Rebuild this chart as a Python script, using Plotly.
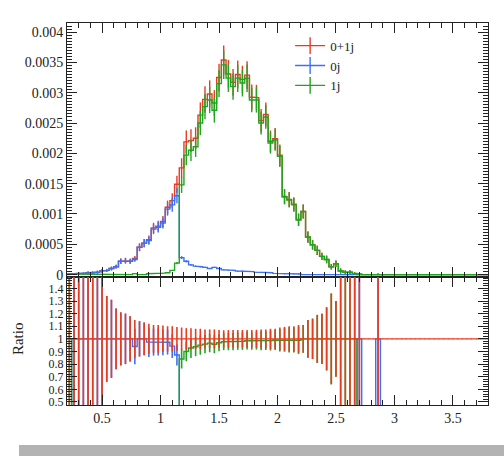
import numpy as np
import plotly.graph_objects as go
from plotly.subplots import make_subplots

# ---------------- data ----------------
bin_edges = [round(0.2 + 0.04 * k, 4) for k in range(91)]

total_0p1j = [
    0.00001, 0.00001, 0.00002, 0.00002, 0.00003, 0.00003, 0.00004, 0.00006, 0.00007, 0.0001,
    0.00013, 0.00022, 0.00023, 0.00022, 0.000266, 0.00045, 0.00052, 0.000575, 0.00077, 0.0008,
    0.000875, 0.00111, 0.00122, 0.00149, 0.00176, 0.00219, 0.00221, 0.00225, 0.00263, 0.00289,
    0.00298, 0.00283, 0.00325, 0.00354, 0.00331, 0.00317, 0.0033, 0.00322, 0.00329, 0.00293,
    0.00292, 0.00254, 0.00264, 0.0022, 0.00224, 0.00197, 0.00129, 0.00124, 0.00116, 0.00091,
    0.00104, 0.00062, 0.00049, 0.0004, 0.0003, 0.00025, 0.00013, 0.00018, 0.00006, 0.00004,
    0.00004, 0.00002, 0.00001, 0.0, 0.0, 0.0, 0.00001, 0.0, 0.0, 0.0,
] + [0.0] * 20

zero_jet = [
    0.0, 0.00001, 0.00002, 0.00002, 0.00003, 0.00003, 0.00004, 0.00006, 0.00007, 0.0001,
    0.00013, 0.00022, 0.00023, 0.00022, 0.00025, 0.00045, 0.00052, 0.00056, 0.00075, 0.00078,
    0.00085, 0.00108, 0.00115, 0.0013, 0.00028, 0.00022, 0.00016, 0.00014, 0.00013, 0.00012,
    0.0001, 0.00012, 0.0001, 0.00008, 0.00007, 0.00007, 0.00006, 0.00006, 0.00005, 0.00005,
    0.00004, 0.00004, 0.00004, 0.00003, 0.00002, 0.00002, 0.00001, 0.00001, 0.00001, 0.00001,
    0.0, 0.0, 0.0, 0.0, 0.0, 0.0, 0.0, 0.0, 0.0, 0.0,
    0.0, 0.0, 0.00001, 0.0, 0.0, 0.0, 0.00001, 0.0, 0.0, 0.0,
] + [0.0] * 20

one_jet = [
    0.00001, 0.0, 0.0, 0.0, 0.0, 0.0, 0.0, 0.0, 0.0, 0.0,
    0.0, 0.0, 0.0, 0.0, 0.000016, 0.0, 0.0, 0.000015, 0.00002, 0.00002,
    0.000025, 0.00003, 0.00007, 0.00019, 0.00148, 0.00197, 0.00205, 0.00211, 0.0025, 0.00277,
    0.00288, 0.00271, 0.00315, 0.00346, 0.00324, 0.0031, 0.00324, 0.00316, 0.00324, 0.00288,
    0.00288, 0.0025, 0.0026, 0.00217, 0.00222, 0.00195, 0.00128, 0.00123, 0.00115, 0.0009,
    0.00104, 0.00062, 0.00049, 0.0004, 0.0003, 0.00025, 0.00013, 0.00018, 0.00006, 0.00004,
    0.00004, 0.00002, 0.0, 0.0, 0.0, 0.0, 0.0, 0.0, 0.0, 0.0,
] + [0.0] * 20

rel_err = [
    0.9, 0.9, 0.8, 0.8, 0.7, 0.7, 0.62, 0.55, 0.34, 0.31,
    0.24, 0.21, 0.2, 0.18, 0.15, 0.14, 0.13, 0.12, 0.11, 0.11,
    0.105, 0.1, 0.1, 0.095, 0.09, 0.085, 0.085, 0.08, 0.08, 0.075,
    0.075, 0.075, 0.07, 0.068, 0.07, 0.07, 0.07, 0.07, 0.07, 0.07,
    0.072, 0.075, 0.075, 0.08, 0.08, 0.09, 0.095, 0.1, 0.1, 0.11,
    0.11, 0.15, 0.16, 0.19, 0.2, 0.25, 0.36, 0.3, 0.7, 0.8,
    0.8, 0.9, 1.0, 0.0, 0.0, 0.0, 1.0, 0.0, 0.0, 0.0,
] + [0.0] * 20

series_labels = ["0+1j", "0j", "1j"]
x_tick_vals = [0.5, 1, 1.5, 2, 2.5, 3, 3.5]
x_tick_text = ["0.5", "1", "1.5", "2", "2.5", "3", "3.5"]
y_tick_vals = [0, 0.0005, 0.001, 0.0015, 0.002, 0.0025, 0.003, 0.0035, 0.004]
y_tick_text = ["0", "0.0005", "0.001", "0.0015", "0.002", "0.0025", "0.003", "0.0035", "0.004"]
r_tick_vals = [0.5, 0.6, 0.7, 0.8, 0.9, 1.0, 1.1, 1.2, 1.3, 1.4]
r_tick_text = ["0.5", "0.6", "0.7", "0.8", "0.9", "1", "1.1", "1.2", "1.3", "1.4"]

# ---------------- derived ----------------
edges = np.array(bin_edges)
centers = 0.5 * (edges[:-1] + edges[1:])
tot = np.array(total_0p1j)
b0 = np.array(zero_jet)
g1 = np.array(one_jet)
rel = np.array(rel_err)

def step(vals):
    xs = np.repeat(edges, 2)[1:-1]
    ys = np.repeat(np.asarray(vals, dtype=float), 2)
    return xs, ys

safe_tot = np.where(tot > 0, tot, 1.0)
ratio_red = np.ones_like(tot)
ratio_blue = np.where(tot > 0, b0 / safe_tot, 0.0)
ratio_green = np.where(tot > 0, g1 / safe_tot, 0.0)

RED = "#ea3b22"
BLUE = "#3f6ff5"
GREEN = "#1fa51f"
FONT = "Liberation Serif, DejaVu Serif, serif"
LW = 1.4

fig = make_subplots(rows=2, cols=1, shared_xaxes=True, vertical_spacing=0,
                    row_heights=[0.665, 0.335])

top = [(tot, RED, series_labels[0]), (b0, BLUE, series_labels[1]), (g1, GREEN, series_labels[2])]
for vals, col, name in top:
    xs, ys = step(vals)
    fig.add_trace(go.Scatter(x=xs, y=ys, mode="lines", line=dict(color=col, width=LW),
                             showlegend=False, hoverinfo="skip"), row=1, col=1)
    fig.add_trace(go.Scatter(x=centers, y=vals, mode="markers",
                             marker=dict(size=1, color=col),
                             error_y=dict(type="data", array=rel * vals, color=col,
                                          thickness=LW, width=0),
                             showlegend=False, hoverinfo="skip"), row=1, col=1)

for vals, col, name in top:
    fig.add_trace(go.Scatter(x=[None], y=[None], mode="lines+markers", name=name,
                             line=dict(color=col, width=LW),
                             marker=dict(symbol="line-ns-open", size=12, color=col,
                                         line=dict(color=col, width=LW))), row=1, col=1)

bottom = [(ratio_blue, b0, BLUE), (ratio_green, g1, GREEN), (ratio_red, tot, RED)]
for rvals, vals, col in bottom:
    xs, ys = step(rvals)
    fig.add_trace(go.Scatter(x=xs, y=ys, mode="lines", line=dict(color=col, width=LW),
                             showlegend=False, hoverinfo="skip"), row=2, col=1)
    fig.add_trace(go.Scatter(x=centers, y=rvals, mode="markers",
                             marker=dict(size=1, color=col),
                             error_y=dict(type="data", array=rel * vals / safe_tot, color=col,
                                          thickness=1.6, width=0),
                             showlegend=False, hoverinfo="skip"), row=2, col=1)

axis_common = dict(showline=True, linecolor="#222", linewidth=1, mirror="ticks",
                   ticks="inside", tickcolor="#222", showgrid=False, zeroline=False)

fig.update_xaxes(range=[0.2, 3.8], tickvals=x_tick_vals, ticktext=x_tick_text, ticklen=10,
                 tickfont=dict(family=FONT, size=14, color="#222"),
                 minor=dict(dtick=0.1, tick0=0, ticklen=5, ticks="inside", tickcolor="#222"),
                 **axis_common)
fig.update_xaxes(showticklabels=False, row=1, col=1)
fig.update_xaxes(showticklabels=True, row=2, col=1)

fig.update_yaxes(range=[-0.00004, 0.00415], tickvals=y_tick_vals, ticktext=y_tick_text,
                 tickfont=dict(family=FONT, size=14, color="#222"),
                 ticklen=10, minor=dict(dtick=0.00005, tick0=0, ticklen=5, ticks="inside",
                                        tickcolor="#222"),
                 row=1, col=1, **axis_common)
fig.update_yaxes(range=[0.476, 1.49], tickvals=r_tick_vals, ticktext=r_tick_text,
                 tickfont=dict(family=FONT, size=12, color="#222"),
                 ticklen=10, minor=dict(dtick=0.02, tick0=0, ticklen=5, ticks="inside",
                                        tickcolor="#222"),
                 row=2, col=1, **axis_common)

fig.add_annotation(text="Ratio", textangle=-90, x=-0.116, y=0.173, xref="paper", yref="paper",
                   xanchor="center", yanchor="middle", showarrow=False,
                   font=dict(family=FONT, size=15, color="#222"))

fig.add_shape(type="rect", xref="paper", yref="paper", x0=-0.114, x1=1.05, y0=-0.1335,
              y1=-0.1047, fillcolor="#b3b3b3", line=dict(width=0), layer="above")

fig.update_layout(
    width=504, height=456,
    margin=dict(l=67, r=16, t=23, b=51),
    paper_bgcolor="white", plot_bgcolor="white",
    showlegend=True,
    legend=dict(x=0.53, y=0.98, xanchor="left", yanchor="top", bgcolor="rgba(0,0,0,0)",
                font=dict(family=FONT, size=13, color="#222"), tracegroupgap=0),
)

fig.write_html("out.html")
